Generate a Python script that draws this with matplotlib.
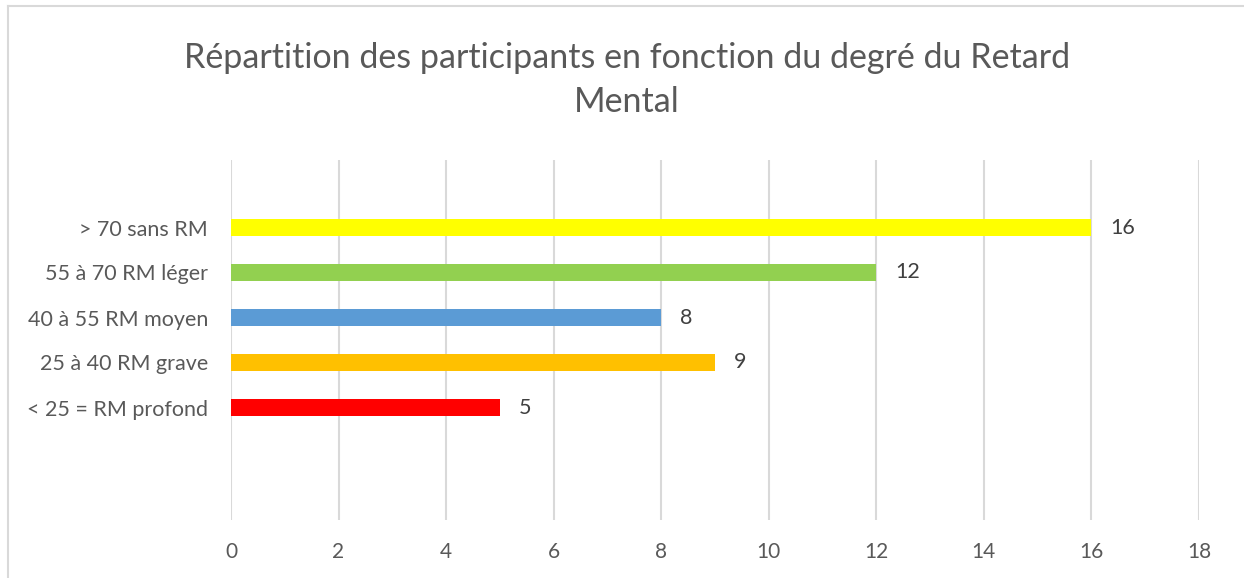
import matplotlib
matplotlib.use("Agg")
import matplotlib.pyplot as plt
from matplotlib.lines import Line2D

plt.rcParams["font.family"] = ["Lato", "DejaVu Sans"]

# Data (bottom to top)
categories = ["< 25 = RM profond", "25 à 40 RM grave", "40 à 55 RM moyen",
              "55 à 70 RM léger", "> 70 sans RM"]
values = [5, 9, 8, 12, 16]
colors = ["#FF0000", "#FFC000", "#5B9BD5", "#92D050", "#FFFF00"]
x_ticks = [0, 2, 4, 6, 8, 10, 12, 14, 16, 18]

W, H = 1244, 578
fig = plt.figure(figsize=(W / 100, H / 100), dpi=100)
ax = fig.add_axes([231 / W, 1 - 520 / H, (1199 - 231) / W, (520 - 160) / H])

pos = list(range(len(categories)))
ax.barh(pos, values, height=0.38, color=colors, zorder=3)

for p, v in zip(pos, values):
    ax.text(v + 0.35, p, str(v), va="center", ha="left",
            fontsize=15.5, color="#404040")

ax.set_xlim(0, 18)
ax.set_ylim(-2.5, 5.5)
ax.set_xticks(x_ticks)
ax.set_xticklabels([str(t) for t in x_ticks], fontsize=15, color="#595959")
ax.set_yticks(pos)
ax.set_yticklabels(categories, fontsize=15.5, color="#595959")
ax.tick_params(axis="both", length=0)
ax.tick_params(axis="x", pad=16)
ax.tick_params(axis="y", pad=16.5)
ax.grid(axis="x", color="#D9D9D9", linewidth=1.5, zorder=0)
for s in ax.spines.values():
    s.set_visible(False)

fig.text(627 / W, 1 - 80 / H,
         "Répartition des participants en fonction du degré du Retard\nMental",
         ha="center", va="center", fontsize=24.5, color="#595959",
         linespacing=1.45)

# chart frame (left and top edges visible)
fig.add_artist(Line2D([8 / W, 8 / W], [0, 1 - 6 / H], transform=fig.transFigure,
                      color="#D9D9D9", linewidth=1.5))
fig.add_artist(Line2D([8 / W, 1], [1 - 6 / H, 1 - 6 / H], transform=fig.transFigure,
                      color="#D9D9D9", linewidth=1.5))

fig.savefig("out.png", dpi=100, facecolor="white")
